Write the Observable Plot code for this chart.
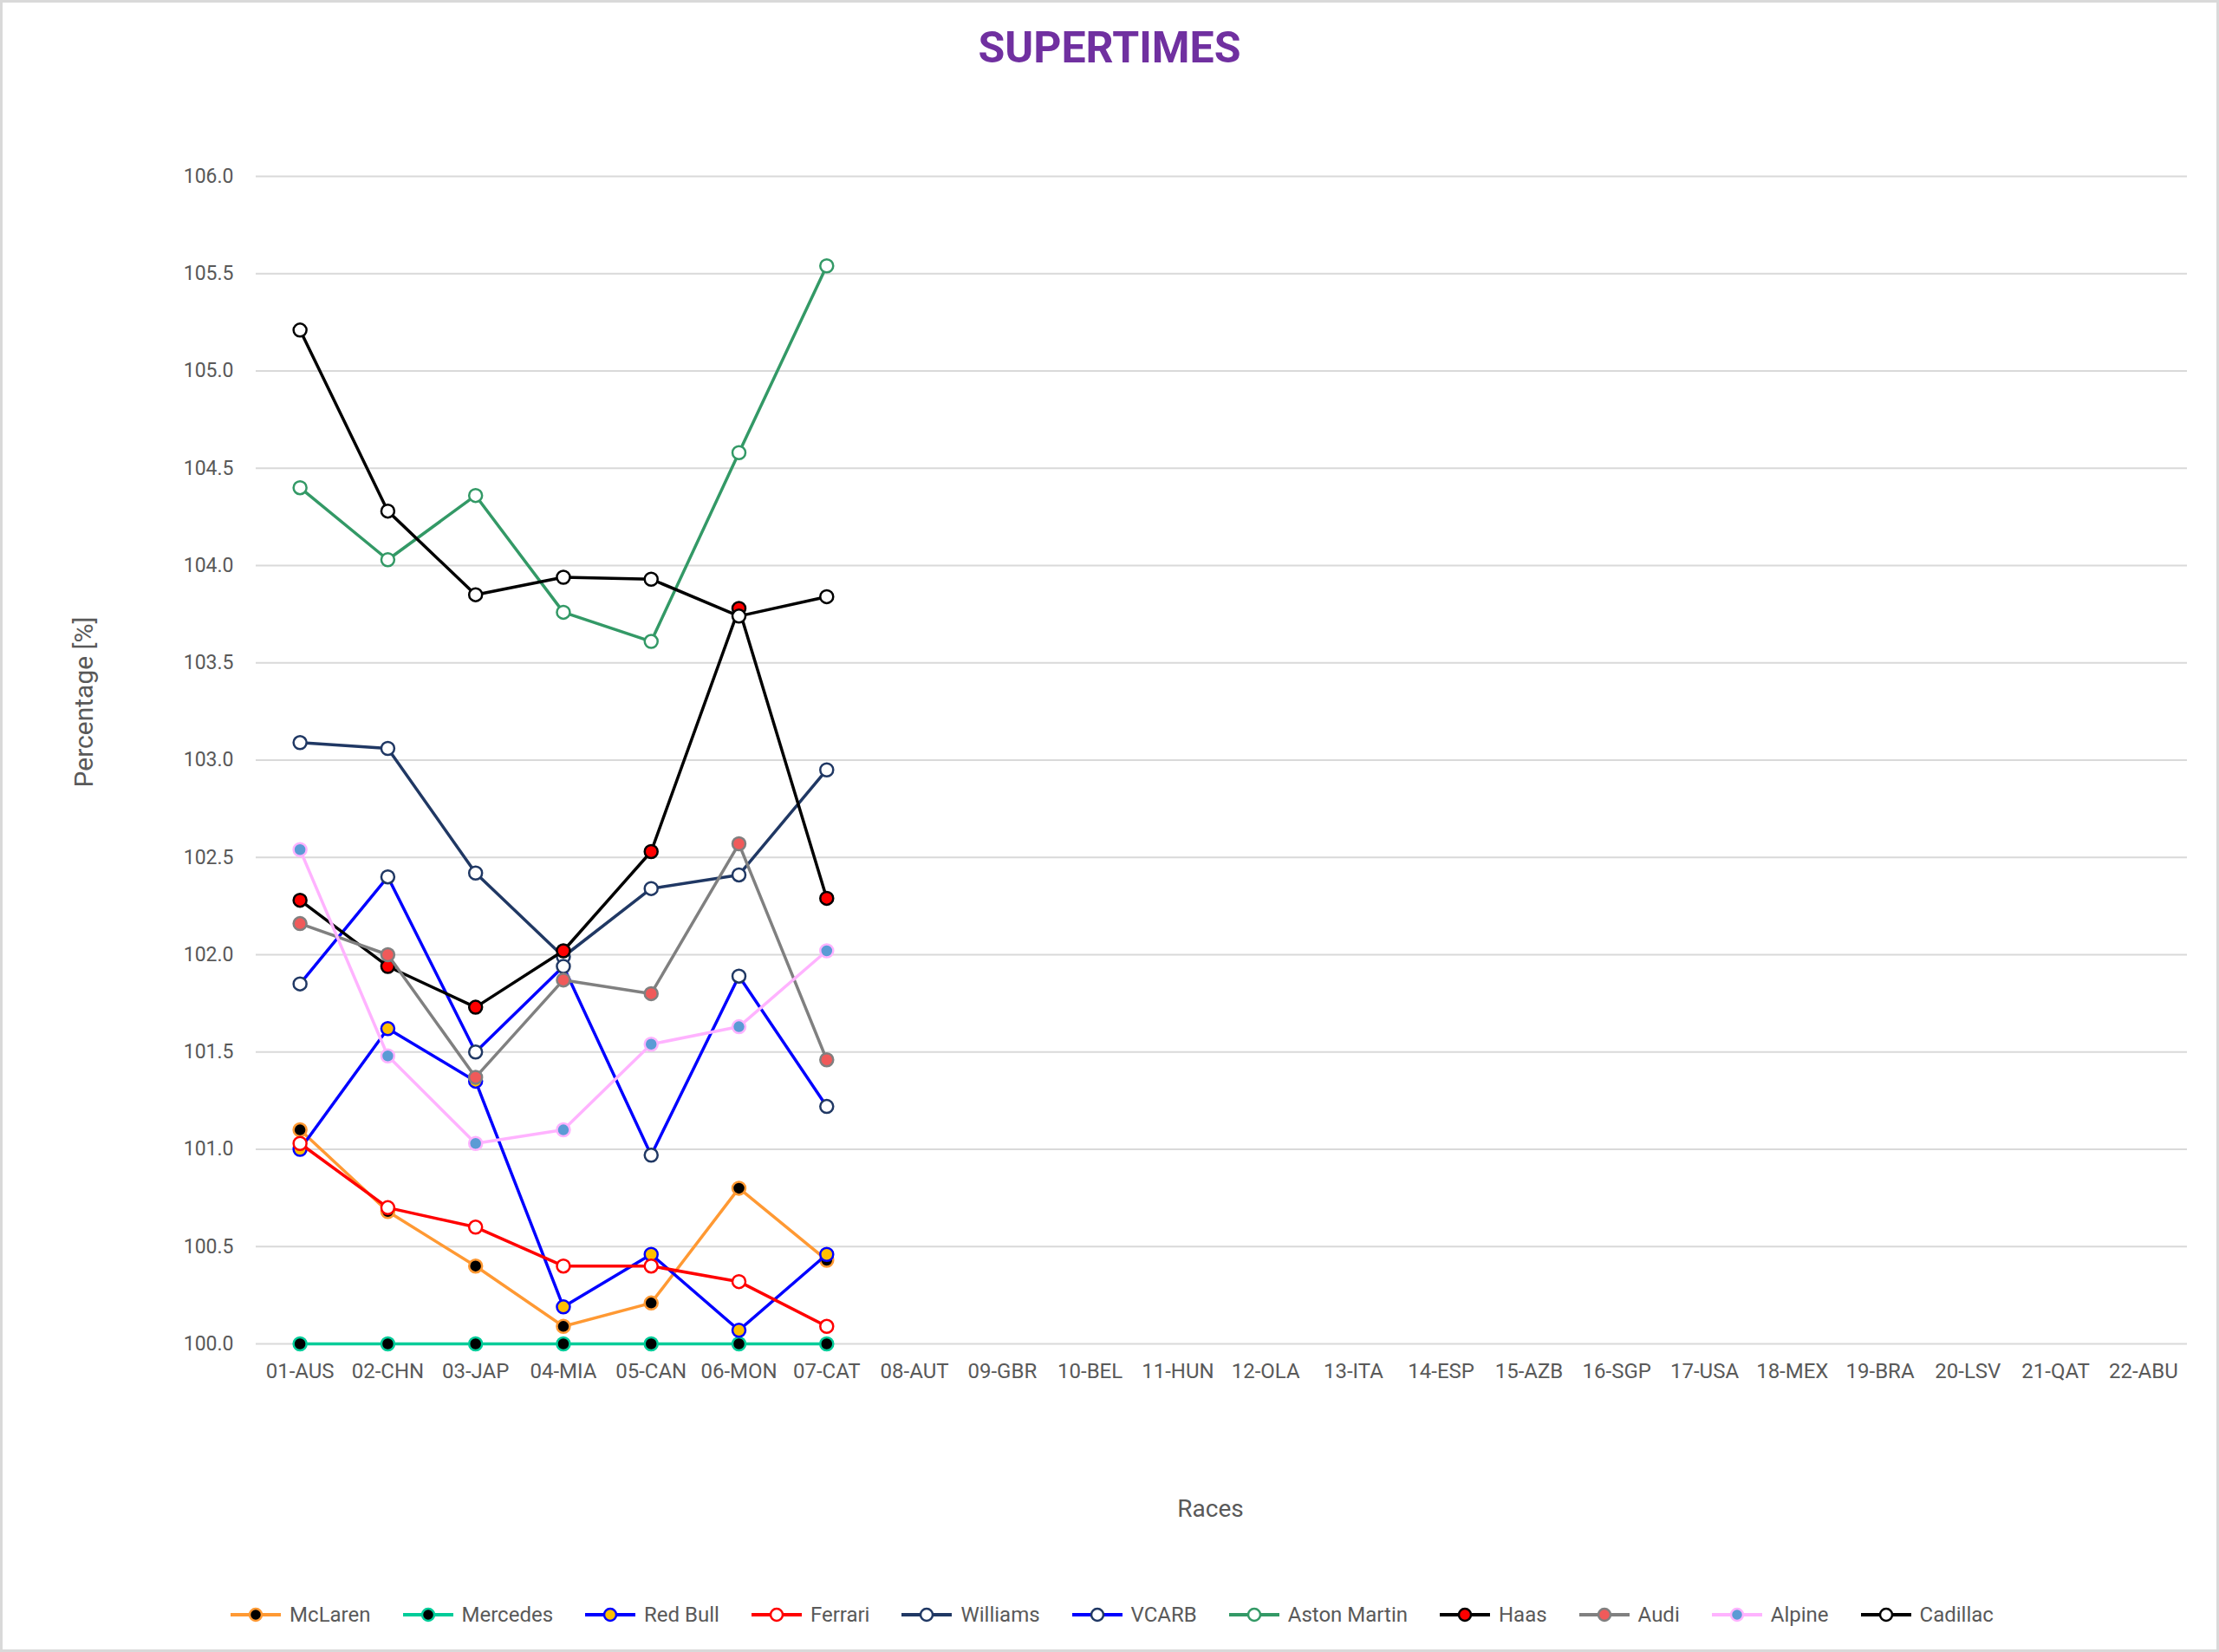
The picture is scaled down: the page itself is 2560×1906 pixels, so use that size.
<!DOCTYPE html>
<html>
<head>
<meta charset="utf-8">
<script src="https://cdn.jsdelivr.net/npm/d3@7"></script>
<script src="https://cdn.jsdelivr.net/npm/@observablehq/plot@0.6"></script>
<style>
  html, body { margin: 0; padding: 0; background: #fff; }
  #chart { position: relative; width: 2560px; height: 1906px; background: #fff; box-shadow: inset 0 0 0 3px #d9d9d9; font-family: Roboto, "Noto Sans", sans-serif; }
  #title { height: 100px; line-height: 110px; text-align: center; font-size: 50px; font-weight: 700; color: #7030a0; font-family: Roboto, sans-serif; }
  #legend { margin-top: 68px; height: 30px; display: flex; justify-content: center; align-items: center; gap: 37px; font-size: 24px; color: #595959; padding-left: 6px; }
  .item { display: flex; align-items: center; gap: 10px; }
  .item svg { display: block; }
</style>
</head>
<body>
<div id="chart">
  <div id="title">SUPERTIMES</div>
  <div id="plot"></div>
  <div id="legend"></div>
</div>
<script>
const races = ["01-AUS","02-CHN","03-JAP","04-MIA","05-CAN","06-MON","07-CAT","08-AUT","09-GBR","10-BEL","11-HUN","12-OLA","13-ITA","14-ESP","15-AZB","16-SGP","17-USA","18-MEX","19-BRA","20-LSV","21-QAT","22-ABU"];
const yTicks = [100.0,100.5,101.0,101.5,102.0,102.5,103.0,103.5,104.0,104.5,105.0,105.5,106.0];

const teams = ["McLaren","Mercedes","Red Bull","Ferrari","Williams","VCARB","Aston Martin","Haas","Audi","Alpine","Cadillac"];
const mclaren     = [101.10,100.68,100.40,100.09,100.21,100.80,100.43];
const mercedes    = [100.00,100.00,100.00,100.00,100.00,100.00,100.00];
const redBull     = [101.00,101.62,101.35,100.19,100.46,100.07,100.46];
const ferrari     = [101.03,100.70,100.60,100.40,100.40,100.32,100.09];
const williams    = [103.09,103.06,102.42,101.99,102.34,102.41,102.95];
const vcarb       = [101.85,102.40,101.50,101.94,100.97,101.89,101.22];
const astonMartin = [104.40,104.03,104.36,103.76,103.61,104.58,105.54];
const haas        = [102.28,101.94,101.73,102.02,102.53,103.78,102.29];
const audi        = [102.16,102.00,101.37,101.87,101.80,102.57,101.46];
const alpine      = [102.54,101.48,101.03,101.10,101.54,101.63,102.02];
const cadillac    = [105.21,104.28,103.85,103.94,103.93,103.74,103.84];
const seriesValues = [mclaren,mercedes,redBull,ferrari,williams,vcarb,astonMartin,haas,audi,alpine,cadillac];

const lineColors   = ["#ff9933","#00cc99","#0000ff","#ff0000","#203864","#0000ff","#339966","#000000","#808080","#ffb3ff","#000000"];
const markerFills  = ["#000000","#000000","#ffc000","#ffffff","#ffffff","#ffffff","#ffffff","#ff0000","#f05a5a","#5b9bd5","#ffffff"];
const markerStroke = ["#ff9933","#00cc99","#0000ff","#ff0000","#203864","#203864","#339966","#000000","#808080","#ffb3ff","#000000"];

const marks = [
  Plot.gridY(yTicks, {stroke: "#d9d9d9", strokeOpacity: 1, strokeWidth: 2}),
  Plot.axisY(yTicks, {tickSize: 0, tickPadding: 26, tickFormat: d3.format(".1f"), label: null, fontSize: 23}),
  Plot.axisX({tickSize: 0, tickPadding: 22, label: null, fontSize: 24}),
  Plot.text(["Races"], {frameAnchor: "bottom", textAnchor: "middle", dx: -13, dy: 199, fontSize: 28, fill: "#595959"}),
  Plot.text(["Percentage [%]"], {frameAnchor: "left", textAnchor: "middle", dx: -198, dy: -67, rotate: -90, fontSize: 30, fill: "#595959"})
];
teams.forEach((team, k) => {
  const rows = seriesValues[k].map((v, i) => ({race: races[i], value: v, team}));
  marks.push(Plot.line(rows, {x: "race", y: "value", stroke: lineColors[k], strokeWidth: 3.5}));
  marks.push(Plot.dot(rows, {x: "race", y: "value", r: 7.5, fill: markerFills[k], stroke: markerStroke[k], strokeWidth: 2.5}));
});

const plot = Plot.plot({
  width: 2560,
  height: 1680,
  marginTop: 103,
  marginBottom: 230,
  marginLeft: 295,
  marginRight: 37,
  x: {type: "point", domain: races, padding: 0.5, round: false},
  y: {domain: [100, 106]},
  style: {fontFamily: "Roboto, sans-serif", fontSize: "24px", color: "#595959", background: "transparent", overflow: "visible"},
  marks
});
document.getElementById("plot").appendChild(plot);

const legend = document.getElementById("legend");
teams.forEach((team, k) => {
  const item = document.createElement("div");
  item.className = "item";
  item.innerHTML = `<svg width="58" height="22" viewBox="0 0 58 22">
    <line x1="0" y1="11" x2="58" y2="11" stroke="${lineColors[k]}" stroke-width="4"/>
    <circle cx="29" cy="11" r="7" fill="${markerFills[k]}" stroke="${markerStroke[k]}" stroke-width="2.5"/>
  </svg><span>${team}</span>`;
  legend.appendChild(item);
});
</script>
</body>
</html>
